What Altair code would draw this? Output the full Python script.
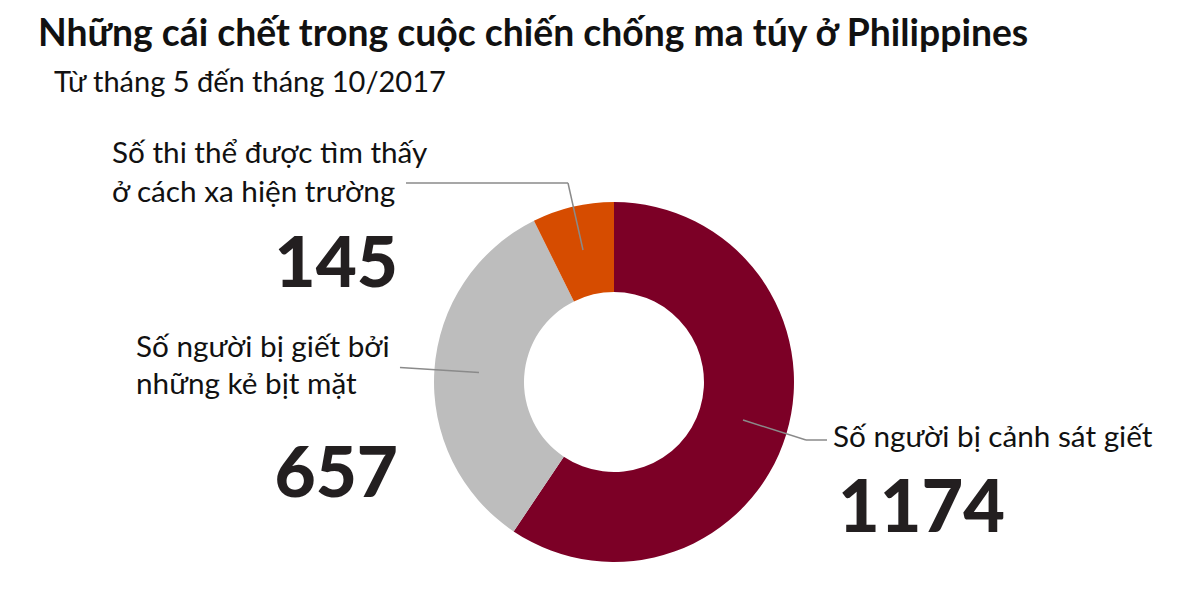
import altair as alt
import pandas as pd

# --- data ---
categories = ["Số người bị cảnh sát giết", "Số người bị giết bởi những kẻ bịt mặt",
              "Số thi thể được tìm thấy ở cách xa hiện trường"]
values = [1174, 657, 145]
order = [1, 2, 3]
colors = ["#7C0026", "#BDBDBD", "#D64C00"]

title = "Những cái chết trong cuộc chiến chống ma túy ở Philippines"
subtitle = "Từ tháng 5 đến tháng 10/2017"

label_lines = ["Số thi thể được tìm thấy", "ở cách xa hiện trường",
               "Số người bị giết bởi", "những kẻ bịt mặt",
               "Số người bị cảnh sát giết"]

FONT = "Lato"

df = pd.DataFrame({"cat": categories, "value": values, "order": order})

W, H = 1164, 584
CX, CY = 606, 374

donut = alt.Chart(df).mark_arc(innerRadius=90, outerRadius=180).encode(
    theta=alt.Theta("value:Q", stack=True),
    order=alt.Order("order:Q"),
    color=alt.Color("cat:N", scale=alt.Scale(domain=categories, range=colors), legend=None),
    x=alt.value(CX), y=alt.value(CY),
)

# leader lines (annotation layout)
seg = pd.DataFrame({
    "x":  [575, 560, 392, 735, 798],
    "y":  [242, 175, 359.5, 412, 432],
    "x2": [560, 398, 471, 798, 819],
    "y2": [175, 175, 364.5, 432, 432],
})
leaders = alt.Chart(seg).mark_rule(color="#8a8a8a", strokeWidth=1.5).encode(
    x=alt.X("x:Q", scale=None, axis=None), y=alt.Y("y:Q", scale=None, axis=None),
    x2="x2:Q", y2="y2:Q",
)

def text_layer(texts, xs, ys, size, weight, align, color):
    d = pd.DataFrame({"t": texts, "x": xs, "y": ys})
    return alt.Chart(d).mark_text(font=FONT, fontSize=size, fontWeight=weight, align=align,
                                  baseline="alphabetic", color=color).encode(
        x=alt.X("x:Q", scale=None, axis=None), y=alt.Y("y:Q", scale=None, axis=None), text="t:N")

t_title = text_layer([title], [30], [38], 37.3, "bold", "left", "#111111")
t_sub = text_layer([subtitle], [46], [84], 29, "normal", "left", "#111111")
t_labels = text_layer(label_lines, [104, 104, 128, 128, 825], [155, 194, 349, 386, 439],
                      29.7, "normal", "left", "#111111")
t_nums_r = text_layer([str(values[2]), str(values[1])], [390, 390], [279, 489], 71, 900, "right", "#231F20")
t_nums_l = text_layer([str(values[0])], [830], [524], 72, 900, "left", "#231F20")

chart = alt.layer(donut, leaders, t_title, t_sub, t_labels, t_nums_r, t_nums_l).properties(
    width=W, height=H, padding=0, background="white",
    autosize=alt.AutoSizeParams(type="fit", contains="padding"),
).configure_view(stroke=None)

chart.save("out.html", embed_options={"renderer": "svg", "actions": False})
